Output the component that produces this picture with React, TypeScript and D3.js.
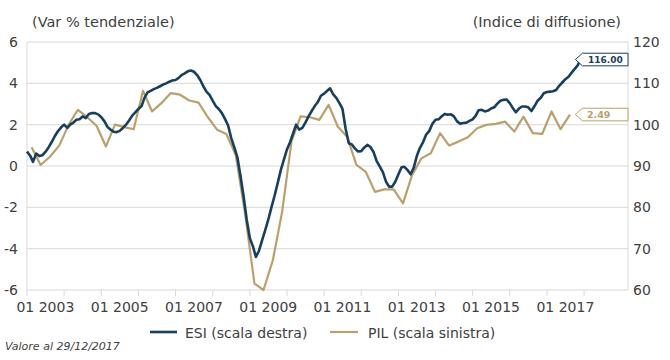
import React from "react";
import * as d3 from "d3";

// ESI monthly, Jan 2003 – Dec 2017 (right axis)
const esiValues: number[] = [
  93.5, 92.5, 91.0, 93.0, 92.4, 92.6, 93.4, 94.5, 95.8, 97.2, 98.4, 99.3,
  100.0, 99.2, 100.0, 100.5, 101.2, 101.3, 102.0, 101.6, 102.6, 102.8, 102.8, 102.5,
  101.8, 100.8, 99.5, 98.8, 98.3, 98.2, 98.5, 99.2, 100.0, 101.0, 102.2, 103.0,
  103.8, 104.5, 106.5, 107.8, 108.2, 108.6, 108.9, 109.3, 109.7, 110.0, 110.4, 110.7,
  110.8, 111.3, 112.0, 112.4, 112.9, 113.1, 112.8, 112.0, 110.8, 109.3, 108.0, 107.2,
  105.8, 104.5, 103.8, 102.8, 101.4, 99.8, 96.8, 94.5, 92.0, 87.5, 82.5, 77.0,
  72.5, 70.5, 68.0, 69.5, 72.0, 74.5, 77.0, 80.0, 82.8, 85.8, 89.0, 91.5,
  94.0, 95.8, 97.8, 100.0, 98.8, 99.2, 100.5, 102.0, 103.3, 104.5, 105.5, 107.0,
  107.5, 108.2, 108.8, 107.3, 106.5, 105.2, 103.8, 99.0, 95.5, 95.2, 94.2, 93.5,
  93.6, 94.5, 95.1, 94.6, 93.4, 91.2, 89.9, 88.5, 86.2, 85.0, 85.0, 86.2,
  88.0, 89.7, 89.8, 89.0, 88.0, 89.6, 92.4, 94.4, 95.8, 97.6, 98.5, 100.2,
  101.2, 101.3, 102.0, 102.6, 102.4, 102.5, 102.0, 100.8, 100.2, 100.4, 100.5, 100.9,
  101.3, 102.2, 103.5, 103.6, 103.2, 103.4, 103.9, 104.2, 105.1, 105.8, 106.0, 106.1,
  105.2, 104.0, 103.0, 103.9, 104.4, 104.4, 104.2, 103.3, 104.5, 105.8, 106.5, 107.6,
  107.9, 108.0, 108.1, 108.4, 109.4, 110.2, 111.0, 111.6, 112.6, 113.5, 114.4, 116.0,
];

// PIL quarterly y/y %, Q1 2003 – Q3 2017 (left axis)
const pilValues: number[] = [
  0.91, 0.05, 0.45, 1.0,
  2.0, 2.72, 2.36, 1.95,
  0.94, 2.0, 1.88, 1.78,
  3.64, 2.64, 3.04, 3.53,
  3.45, 3.17, 3.07, 2.36,
  1.75, 1.55, 0.53, -2.3,
  -5.69, -6.0, -4.56, -2.2,
  1.2, 2.4, 2.36, 2.23,
  2.96, 1.91, 1.42, 0.05,
  -0.28, -1.25, -1.13, -1.13,
  -1.81, -0.44, 0.37, 0.62,
  1.59, 0.99, 1.18, 1.39,
  1.83, 1.99, 2.04, 2.15,
  1.67, 2.39, 1.59, 1.55,
  2.64, 1.78, 2.49,
];

const tickYears: number[] = d3.range(2003, 2019);
const labelYears: number[] = [2003, 2005, 2007, 2009, 2011, 2013, 2015, 2017];
const leftTicks: number[] = [-6, -4, -2, 0, 2, 4, 6];
const rightTicks: number[] = [60, 70, 80, 90, 100, 110, 120];

const ESI_COLOR = "#173f5f";
const PIL_COLOR = "#b9a16b";
const TEXT = "#404040";
const GRID = "#d9d9d9";
const FONT = "'DejaVu Sans', sans-serif";

type Pt = { d: Date; v: number };

export default function App() {
  const W = 670, H = 360;
  const L = 27, R = 628, T = 42, B = 290;

  const x = d3.scaleTime().domain([new Date(2003, 0, 1), new Date(2019, 2, 9)]).range([L, R]);
  const yL = d3.scaleLinear().domain([-6, 6]).range([B, T]);
  const yR = d3.scaleLinear().domain([60, 120]).range([B, T]);

  const esi: Pt[] = esiValues.map((v, i) => ({ d: new Date(2003, i, 1), v }));
  const pil: Pt[] = pilValues.map((v, q) => ({ d: new Date(2003, 3 * q + 1, 15), v }));

  const esiLine = d3.line<Pt>().x((p) => x(p.d)).y((p) => yR(p.v));
  const pilLine = d3.line<Pt>().x((p) => x(p.d)).y((p) => yL(p.v));

  const lastEsi = esi[esi.length - 1];
  const lastPil = pil[pil.length - 1];
  const tipX = x(lastEsi.d) - 5.5;
  const fmt = d3.format(".2f");

  const box = (yc: number) => {
    const h = 6.3;
    return `M${tipX},${yc} L${tipX + 7},${yc - h} L${R},${yc - h} L${R},${yc + h} L${tipX + 7},${yc + h} Z`;
  };
  const yE = yR(lastEsi.v) + 1;
  const yP = yL(lastPil.v);

  return (
    <svg width={W} height={H} style={{ position: "absolute", left: 0, top: 0, background: "#fff" }} fontFamily={FONT}>
      {/* grid */}
      {leftTicks.map((t) => (
        <line key={"g" + t} x1={L} x2={R} y1={yL(t)} y2={yL(t)} stroke={GRID} strokeWidth={1} />
      ))}
      <line x1={L} x2={L} y1={T} y2={B} stroke={GRID} strokeWidth={1} />
      <line x1={R} x2={R} y1={T} y2={B} stroke={GRID} strokeWidth={1} />
      {tickYears.map((yr) => (
        <line key={"t" + yr} x1={x(new Date(yr, 0, 1))} x2={x(new Date(yr, 0, 1))} y1={B} y2={B + 6} stroke={GRID} strokeWidth={1} />
      ))}

      {/* titles */}
      <text x={32} y={27} fontSize={14.5} fill={TEXT}>(Var % tendenziale)</text>
      <text x={621} y={27} fontSize={14.5} fill={TEXT} textAnchor="end">(Indice di diffusione)</text>

      {/* left ticks */}
      {leftTicks.map((t) => (
        <text key={"l" + t} x={18} y={yL(t)} dy="0.35em" fontSize={14} fill={TEXT} textAnchor="end">{t}</text>
      ))}
      {/* right ticks */}
      {rightTicks.map((t) => (
        <text key={"r" + t} x={633} y={yR(t)} dy="0.35em" fontSize={14} fill={TEXT}>{t}</text>
      ))}
      {/* x labels */}
      {labelYears.map((yr) => (
        <text key={"x" + yr} x={x(new Date(yr, 6, 1))} y={312} fontSize={14} fill={TEXT} textAnchor="middle">{"01 " + yr}</text>
      ))}

      {/* series */}
      <path d={pilLine(pil) || ""} fill="none" stroke={PIL_COLOR} strokeWidth={2.2} strokeLinejoin="round" />
      <path d={esiLine(esi) || ""} fill="none" stroke={ESI_COLOR} strokeWidth={2.6} strokeLinejoin="round" />

      {/* end labels */}
      <path d={box(yE)} fill="#fff" stroke={ESI_COLOR} strokeWidth={1} />
      <text x={588} y={yE} dy="0.35em" fontSize={9} fontWeight="bold" fill={ESI_COLOR}>{fmt(lastEsi.v)}</text>
      <path d={box(yP)} fill="#fff" stroke={PIL_COLOR} strokeWidth={1} />
      <text x={587} y={yP} dy="0.35em" fontSize={9.5} fontWeight="bold" fill={PIL_COLOR}>{fmt(lastPil.v)}</text>

      {/* legend */}
      <line x1={150} x2={177} y1={332} y2={332} stroke={ESI_COLOR} strokeWidth={2.6} />
      <text x={185} y={338} fontSize={14} fill={TEXT}>ESI (scala destra)</text>
      <line x1={330} x2={358} y1={332} y2={332} stroke={PIL_COLOR} strokeWidth={2.2} />
      <text x={368} y={338} fontSize={14} fill={TEXT}>PIL (scala sinistra)</text>

      {/* footnote */}
      <text x={5} y={350} fontSize={11} fontStyle="italic" fill={TEXT}>Valore al 29/12/2017</text>
    </svg>
  );
}
